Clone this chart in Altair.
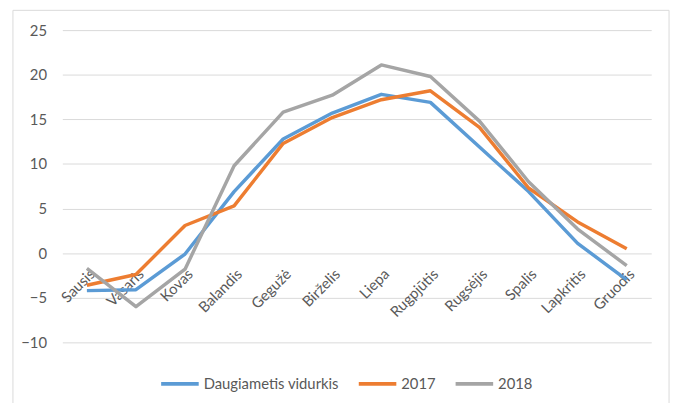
import altair as alt
import pandas as pd

months = ["Sausis", "Vasaris", "Kovas", "Balandis", "Gegužė", "Birželis",
          "Liepa", "Rugpjūtis", "Rugsėjis", "Spalis", "Lapkritis", "Gruodis"]
series_names = ["Daugiametis vidurkis", "2017", "2018"]
avg = [-4.2, -4.1, -0.1, 6.9, 12.8, 15.7, 17.8, 16.9, 11.9, 6.9, 1.1, -3.0]
y2017 = [-3.6, -2.4, 3.1, 5.3, 12.3, 15.2, 17.2, 18.2, 14.1, 7.3, 3.5, 0.5]
y2018 = [-1.7, -6.0, -1.8, 9.8, 15.8, 17.7, 21.1, 19.8, 14.8, 8.0, 2.7, -1.4]
y_ticks = [-10, -5, 0, 5, 10, 15, 20, 25]
colors = ["#5B9BD5", "#ED7D31", "#A5A5A5"]

rows = []
for name, vals in zip(series_names, [avg, y2017, y2018]):
    for m, v in zip(months, vals):
        rows.append({"Mėnuo": m, "Serija": name, "Temp": v})
df = pd.DataFrame(rows)

FONT = "Lato"
W, H = 596, 316

lines = alt.Chart(df).mark_line(strokeWidth=3.5, strokeJoin="round").encode(
    x=alt.X("Mėnuo:N", sort=months,
            scale=alt.Scale(type="point", padding=0.5),
            axis=alt.Axis(title=None, labelAngle=-45, labelAlign="right",
                          labelBaseline="top", labelPadding=13, ticks=False,
                          domain=False, offset=-90, labelFontSize=15,
                          labelColor="#595959", labelFont=FONT)),
    y=alt.Y("Temp:Q", scale=alt.Scale(domain=[-10, 25], nice=False),
            axis=alt.Axis(title=None, values=y_ticks, ticks=False, domain=False,
                          grid=True, gridColor="#D9D9D9", labelPadding=16,
                          labelFontSize=15, labelColor="#595959", labelFont=FONT)),
    color=alt.Color("Serija:N", sort=series_names,
                    scale=alt.Scale(domain=series_names, range=colors),
                    legend=alt.Legend(title=None, orient="none", direction="horizontal",
                                      legendX=98, legendY=337, symbolType="stroke",
                                      symbolSize=1444, symbolStrokeWidth=4,
                                      labelFontSize=15, labelColor="#595959",
                                      labelFont=FONT, labelOffset=3,
                                      columnPadding=12)),
)

frame = alt.Chart(pd.DataFrame({"a": [0]})).mark_rect(
    fillOpacity=0, stroke="#D9D9D9", strokeWidth=1
).encode(x=alt.value(-50), x2=alt.value(614), y=alt.value(-20), y2=alt.value(380))

chart = alt.layer(frame, lines).properties(
    width=W, height=H,
    autosize=alt.AutoSizeParams(type="none"),
    padding={"left": 55, "top": 20, "right": 21, "bottom": 59},
).configure_view(stroke=None)

chart.save("out.html", embed_options={"renderer": "svg", "actions": False})
